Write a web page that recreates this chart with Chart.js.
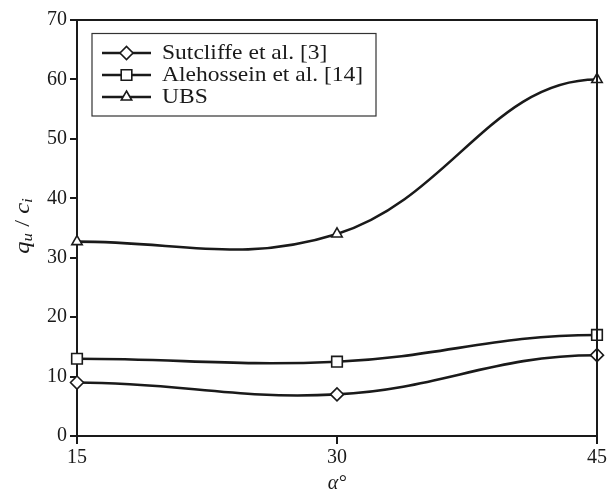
<!DOCTYPE html>
<html>
<head>
<meta charset="utf-8">
<script src="https://cdn.jsdelivr.net/npm/chart.js@4.4.0/dist/chart.umd.min.js"></script>
<style>
  body { margin: 0; background: #fff; }
</style>
</head>
<body>
<canvas id="grafico" width="612" height="496"></canvas>
<script>
const angulos = [15, 30, 45];
const sutcliffe = [9, 7, 13.6];
const alehossein = [13, 12.5, 17];
const ubs = [32.7, 34, 60];
const ticksY = [0, 10, 20, 30, 40, 50, 60, 70];
const ticksX = [15, 30, 45];
const nomes = ['Sutcliffe et al. [3]', 'Alehossein et al. [14]', 'UBS'];
const marcadores = ['rectRot', 'rect', 'triangle'];

const fonte = 'Liberation Serif';
const cor = '#1a1a1a';

function serie(nome, valores, marcador, raio) {
  return {
    label: nome,
    data: angulos.map((a, i) => ({x: a, y: valores[i]})),
    borderColor: cor,
    borderWidth: 2.6,
    backgroundColor: '#fff',
    pointStyle: marcador,
    pointRadius: raio,
    pointBorderWidth: 1.6,
    pointBorderColor: cor,
    pointBackgroundColor: '#fff',
    tension: 0.4,
    clip: false
  };
}

const series = [
  serie(nomes[0], sutcliffe, marcadores[0], 6.5),
  serie(nomes[1], alehossein, marcadores[1], 7.5),
  serie(nomes[2], ubs, marcadores[2], 6)
];

// pontas das curvas saem na horizontal (como no original)
const pontas = {
  id: 'pontas',
  beforeDatasetsDraw(chart) {
    chart.getSortedVisibleDatasetMetas().forEach(meta => {
      const linha = meta.dataset;
      linha.updateControlPoints(chart.chartArea);
      const pts = linha.points;
      const p0 = pts[0];
      const pn = pts[pts.length - 1];
      p0.cp2y = p0.y;
      pn.cp1y = pn.y;
    });
  }
};

// caixa do grafico + legenda + titulo do eixo y
const extras = {
  id: 'extras',
  afterDatasetsDraw(chart) {
    const ctx = chart.ctx;
    const a = chart.chartArea;
    ctx.save();
    ctx.strokeStyle = cor;
    ctx.lineWidth = 2;
    ctx.beginPath();
    ctx.moveTo(a.left, a.top);
    ctx.lineTo(a.right, a.top);
    ctx.lineTo(a.right, a.bottom);
    ctx.stroke();

    // legenda
    ctx.lineWidth = 1.2;
    ctx.strokeStyle = '#333';
    ctx.strokeRect(92, 33.5, 284, 82.5);
    const linhas = [53, 75, 97];
    linhas.forEach((y, i) => {
      ctx.strokeStyle = cor;
      ctx.lineWidth = 2.6;
      ctx.beginPath();
      ctx.moveTo(102, y);
      ctx.lineTo(151, y);
      ctx.stroke();
      ctx.fillStyle = '#fff';
      ctx.lineWidth = 1.6;
      Chart.helpers.drawPoint(ctx, {
        pointStyle: marcadores[i],
        radius: series[i].pointRadius,
        rotation: 0,
        borderWidth: 1.6
      }, 126.5, y);
      ctx.save();
      ctx.fillStyle = cor;
      ctx.font = '21px "' + fonte + '"';
      ctx.textBaseline = 'middle';
      ctx.textAlign = 'left';
      ctx.translate(162, y);
      ctx.scale(1.12, 1);
      ctx.fillText(nomes[i], 0, 0);
      ctx.restore();
    });

    // titulo y: q_u / c_i
    ctx.translate(23, 226);
    ctx.rotate(-Math.PI / 2);
    ctx.scale(1.12, 1);
    const partes = [
      {t: 'q', f: 'italic 22px', dy: 0},
      {t: 'u', f: 'italic 15px', dy: 5},
      {t: ' / ', f: '22px', dy: 0},
      {t: 'c', f: 'italic 22px', dy: 0},
      {t: 'i', f: 'italic 15px', dy: 5}
    ];
    let total = 0;
    partes.forEach(p => {
      ctx.font = p.f + ' "' + fonte + '"';
      p.w = ctx.measureText(p.t).width;
      total += p.w;
    });
    let x = -total / 2;
    ctx.textBaseline = 'middle';
    ctx.fillStyle = cor;
    partes.forEach(p => {
      ctx.font = p.f + ' "' + fonte + '"';
      ctx.fillText(p.t, x, p.dy);
      x += p.w;
    });
    ctx.restore();
  }
};

new Chart(document.getElementById('grafico'), {
  type: 'line',
  data: { datasets: series },
  options: {
    responsive: false,
    animation: false,
    layout: { padding: { top: 20, right: 15, left: 0, bottom: 0 } },
    plugins: { legend: { display: false }, tooltip: { enabled: false } },
    scales: {
      x: {
        type: 'linear',
        min: 15,
        max: 45,
        afterBuildTicks: s => { s.ticks = ticksX.map(v => ({value: v})); },
        afterFit: s => { s.height = 60; },
        grid: { drawOnChartArea: false, drawTicks: true, tickLength: 8, color: cor, lineWidth: 2 },
        border: { display: true, color: cor, width: 2 },
        ticks: { color: cor, font: { family: fonte, size: 20 }, padding: 2, maxRotation: 0 },
        title: { display: true, text: 'α°', color: cor, font: { family: fonte, size: 20, style: 'italic' }, padding: { top: 3, bottom: 0 } }
      },
      y: {
        min: 0,
        max: 70,
        afterBuildTicks: s => { s.ticks = ticksY.map(v => ({value: v})); },
        afterFit: s => { s.width = 77; },
        grid: { drawOnChartArea: false, drawTicks: true, tickLength: 7, color: cor, lineWidth: 2 },
        border: { display: true, color: cor, width: 2 },
        ticks: { color: cor, font: { family: fonte, size: 20 }, padding: 3 }
      }
    }
  },
  plugins: [pontas, extras]
});
</script>
</body>
</html>
